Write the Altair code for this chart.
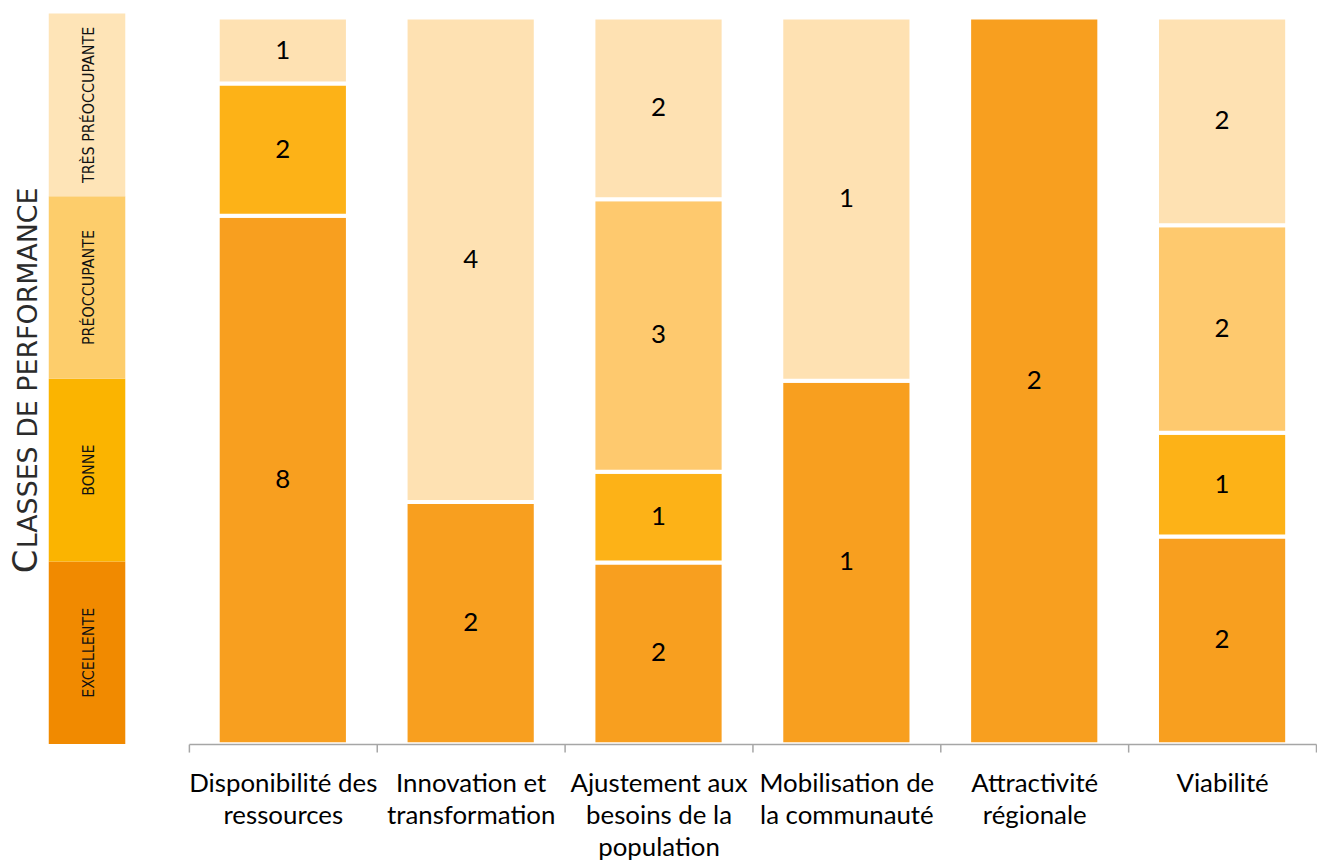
import altair as alt
import pandas as pd

CATEGORIES = [
    "Disponibilité des ressources",
    "Innovation et transformation",
    "Ajustement aux besoins de la population",
    "Mobilisation de la communauté",
    "Attractivité régionale",
    "Viabilité",
]
LABEL_LINES = [
    ["Disponibilité des", "ressources"],
    ["Innovation et", "transformation"],
    ["Ajustement aux", "besoins de la", "population"],
    ["Mobilisation de", "la communauté"],
    ["Attractivité", "régionale"],
    ["Viabilité"],
]
CLASSES = ["Excellente", "Bonne", "Préoccupante", "Très préoccupante"]
LEGEND_LABELS = ["EXCELLENTE", "BONNE", "PRÉOCCUPANTE", "TRÈS PRÉOCCUPANTE"]

EXCELLENTE = [8, 2, 2, 1, 2, 2]
BONNE = [2, 0, 1, 0, 0, 1]
PREOCCUPANTE = [0, 0, 3, 0, 0, 2]
TRES_PREOCCUPANTE = [1, 4, 2, 1, 0, 2]

BAR_COLORS = ["#F89F1F", "#FDB217", "#FEC96E", "#FEE1B2"]
LEGEND_COLORS = ["#F18A00", "#FBB400", "#FDCD6B", "#FEE4B7"]

TITLE_CAP = "C"
TITLE_REST = "LASSES DE PERFORMANCE"

SERIES = [EXCELLENTE, BONNE, PREOCCUPANTE, TRES_PREOCCUPANTE]

rows = []
for ci, cat in enumerate(CATEGORIES):
    for k, cls in enumerate(CLASSES):
        v = SERIES[k][ci]
        if v > 0:
            rows.append({"category": cat, "classe": cls, "order": k, "value": v})
df = pd.DataFrame(rows)

# label expression (multi-line axis labels)
expr = "''"
for cat, lines in reversed(list(zip(CATEGORIES, LABEL_LINES))):
    arr = "[" + ",".join("'" + l + "'" for l in lines) + "]"
    expr = f"datum.value == '{cat}' ? {arr} : ({expr})"

LABEL_FONT = "Lato"
H = 735

base = alt.Chart(df).transform_stack(
    stack="value",
    groupby=["category"],
    as_=["y0", "y1"],
    sort=[alt.SortField("order", order="ascending")],
    offset="normalize",
).transform_calculate(mid="(datum.y0 + datum.y1) / 2")

xenc = alt.X(
    "category:N",
    sort=CATEGORIES,
    scale=alt.Scale(paddingInner=0, paddingOuter=0),
    axis=alt.Axis(
        title=None,
        labelAngle=0,
        labelExpr=expr,
        labelFont=LABEL_FONT,
        labelFontSize=26,
        labelColor="#000000",
        labelLineHeight=32,
        labelPadding=19,
        labelLimit=400,
        labelOverlap=False,
        labelBound=False,
        tickBand="extent",
        domainColor="#A6A6A6",
        domainWidth=1.5,
        tickColor="#A6A6A6",
        tickWidth=1.5,
        tickSize=8,
        zindex=1,
    ),
)

bars = base.mark_bar(stroke="white", strokeWidth=4, width={"band": 0.693}).encode(
    x=xenc,
    y=alt.Y("y0:Q", scale=alt.Scale(domain=[0, 1.00547], nice=False), axis=None),
    y2="y1:Q",
    color=alt.Color("classe:N", scale=alt.Scale(domain=CLASSES, range=BAR_COLORS), legend=None),
)

nums = base.mark_text(font=LABEL_FONT, fontSize=26, color="#000000", baseline="middle").encode(
    x=alt.X("category:N", sort=CATEGORIES),
    y=alt.Y("mid:Q"),
    text=alt.Text("value:Q"),
)

main = alt.layer(bars, nums).properties(width=1134, height=H)

# left-hand performance-class column
leg_df = pd.DataFrame({
    "classe_leg": CLASSES,
    "label": LEGEND_LABELS,
    "idx": list(range(len(CLASSES))),
})
leg_base = alt.Chart(leg_df).transform_calculate(
    idx_end="datum.idx + 1", mid_leg="datum.idx + 0.5"
)
leg_rects = leg_base.mark_rect().encode(
    x=alt.value(0),
    x2=alt.value("width"),
    y=alt.Y("idx:Q", scale=alt.Scale(domain=[0, 4], nice=False), axis=None),
    y2="idx_end:Q",
    color=alt.Color("classe_leg:N", scale=alt.Scale(domain=CLASSES, range=LEGEND_COLORS), legend=None),
)
leg_text = leg_base.mark_text(
    angle=270, align="center", baseline="middle",
    font="'Liberation Sans Narrow', 'DejaVu Sans Condensed', 'Liberation Sans'",
    fontSize=16, color="#111111",
).encode(
    x=alt.value(41),
    y=alt.Y("mid_leg:Q"),
    text="label:N",
)

title_cap = alt.Chart(pd.DataFrame({"t": [TITLE_CAP]})).mark_text(
    angle=270, align="left", baseline="alphabetic",
    font="DejaVu Sans", fontSize=34, color="#2B2B2B",
).encode(text="t:N", x=alt.value(-12), y=alt.value(563))

title_rest = alt.Chart(pd.DataFrame({"t": [TITLE_REST]})).mark_text(
    angle=270, align="left", baseline="alphabetic",
    font="DejaVu Sans", fontSize=27, color="#2B2B2B",
).encode(text="t:N", x=alt.value(-12), y=alt.value(538))

legend = alt.layer(leg_rects, leg_text, title_cap, title_rest).properties(width=77, height=H)

chart = alt.hconcat(legend, main, spacing=63).resolve_scale(
    color="independent", y="independent", x="independent"
).properties(
    padding={"left": 2, "top": 3, "right": 0, "bottom": 0}
).configure_view(stroke=None)

chart.save("out.html", embed_options={"renderer": "svg", "actions": False})
